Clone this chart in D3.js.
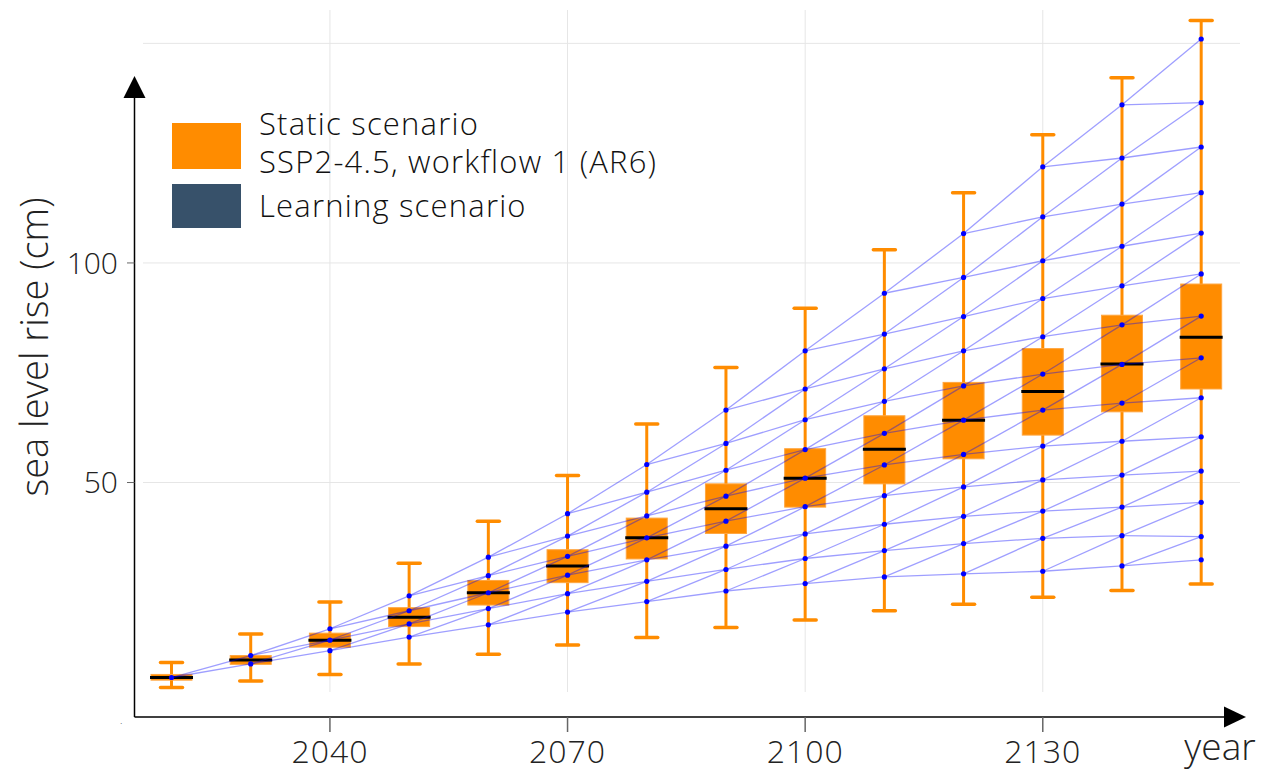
<!DOCTYPE html>
<html>
<head>
<meta charset="utf-8">
<script src="https://cdn.jsdelivr.net/npm/d3@7"></script>
<style>
  body { margin: 0; background: #fff; }
  svg { display: block; font-family: "Open Sans", sans-serif; font-weight: 300; }
</style>
</head>
<body>
<svg id="chart"></svg>
<script>
var width = 1270
var height = 771

var years = [2020, 2030, 2040, 2050, 2060, 2070, 2080, 2090, 2100, 2110, 2120, 2130, 2140, 2150]
var whiskerLow = [3.3, 4.8, 6.3, 8.7, 10.9, 13.0, 14.7, 17.0, 18.7, 20.8, 22.3, 23.9, 25.4, 26.9]
var boxLow =     [5.0, 8.6, 12.5, 17.2, 22.1, 27.2, 32.6, 38.4, 44.4, 49.7, 55.4, 60.8, 66.1, 71.3]
var medians =    [5.6, 9.6, 14.1, 19.3, 24.9, 31.0, 37.4, 44.0, 51.0, 57.6, 64.2, 70.7, 77.0, 83.1]
var boxHigh =    [6.3, 10.6, 15.7, 21.5, 27.7, 34.7, 41.9, 49.7, 57.7, 65.2, 72.8, 80.5, 88.1, 95.2]
var whiskerHigh = [9.0, 15.5, 22.8, 31.6, 41.2, 51.6, 63.3, 76.2, 89.7, 103.0, 116.0, 129.2, 142.2, 155.2]

// learning scenario tree, nodes per year, top to bottom
var nodes = [
  [5.6],
  [10.6, 8.7],
  [16.7, 14.1, 11.7],
  [24.2, 20.8, 17.8, 14.8],
  [33.0, 28.8, 24.9, 21.3, 17.6],
  [42.9, 37.8, 33.2, 28.9, 24.7, 20.5],
  [54.1, 47.8, 42.4, 37.4, 32.4, 27.5, 22.9],
  [66.5, 58.9, 52.8, 46.9, 41.2, 35.5, 30.2, 25.3],
  [80.0, 71.3, 64.3, 57.5, 51.0, 44.5, 38.3, 32.7, 27.0],
  [93.1, 83.8, 75.9, 68.5, 61.2, 54.0, 47.0, 40.5, 34.5, 28.5],
  [106.7, 96.7, 87.8, 80.0, 72.0, 64.2, 56.4, 49.0, 42.3, 36.1, 29.2],
  [121.9, 110.5, 100.5, 91.9, 83.2, 74.7, 66.5, 58.3, 50.6, 43.5, 37.3, 29.8],
  [136.0, 123.9, 113.4, 103.8, 94.8, 85.9, 76.9, 68.1, 59.4, 51.7, 44.4, 37.9, 31.0],
  [151.0, 136.5, 126.4, 116.0, 106.8, 97.5, 87.9, 78.4, 69.3, 60.4, 52.6, 45.5, 37.7, 32.4]
]

var xTicks = [2040, 2070, 2100, 2130]
var yTicks = [50, 100]
var yGrid = [50, 100, 150]

var legendItems = [
  {lines: ["Static scenario", "SSP2-4.5, workflow 1 (AR6)"], color: "#ff8c00"},
  {lines: ["Learning scenario"], color: "#37516a"}
]

const svg = d3.select("#chart")
  .attr("width", width)
  .attr("height", height)

// plot area
const x = d3.scaleLinear().domain([2016.4, 2154.9]).range([143, 1240])
const y = d3.scaleLinear().domain([2.3, 157.6]).range([692, 10])

const axisX = 134.5
const axisY = 717

// grid
svg.append("g")
  .selectAll("line")
  .data(yGrid)
  .join("line")
  .attr("x1", 143).attr("x2", 1240)
  .attr("y1", d => y(d)).attr("y2", d => y(d))
  .attr("stroke", "#e6e6e6")
  .attr("stroke-width", 1)

svg.append("g")
  .selectAll("line")
  .data(xTicks)
  .join("line")
  .attr("x1", d => x(d)).attr("x2", d => x(d))
  .attr("y1", 10).attr("y2", 692)
  .attr("stroke", "#e6e6e6")
  .attr("stroke-width", 1)

// boxes
const boxW = 41
const capW = 22
const box = svg.append("g")
  .selectAll("g")
  .data(years.map((yr, i) => ({yr: yr, lo: whiskerLow[i], q1: boxLow[i], med: medians[i], q3: boxHigh[i], hi: whiskerHigh[i]})))
  .join("g")

box.append("line")
  .attr("x1", d => x(d.yr)).attr("x2", d => x(d.yr))
  .attr("y1", d => y(d.hi)).attr("y2", d => y(d.lo))
  .attr("stroke", "#ff8c00")
  .attr("stroke-width", 3)

box.selectAll(".cap")
  .data(d => [d, d].map((e, k) => ({yr: e.yr, v: k ? e.lo : e.hi})))
  .join("line")
  .attr("class", "cap")
  .attr("x1", d => x(d.yr) - capW / 2).attr("x2", d => x(d.yr) + capW / 2)
  .attr("y1", d => y(d.v)).attr("y2", d => y(d.v))
  .attr("stroke", "#ff8c00")
  .attr("stroke-width", 3.5)
  .attr("stroke-linecap", "round")

box.append("rect")
  .attr("x", d => x(d.yr) - boxW / 2)
  .attr("width", boxW)
  .attr("y", d => y(d.q3))
  .attr("height", d => Math.max(1, y(d.q1) - y(d.q3)))
  .attr("fill", "#ff8c00")
  .attr("stroke", "#ffa640")
  .attr("stroke-width", 1)

box.append("line")
  .attr("x1", d => x(d.yr) - boxW / 2 - 1).attr("x2", d => x(d.yr) + boxW / 2 + 1)
  .attr("y1", d => y(d.med)).attr("y2", d => y(d.med))
  .attr("stroke", "#000")
  .attr("stroke-width", 3)

// tree edges
var edges = []
nodes.forEach((col, t) => {
  if (t == nodes.length - 1) return
  col.forEach((v, i) => {
    edges.push({x1: years[t], y1: v, x2: years[t + 1], y2: nodes[t + 1][i]})
    edges.push({x1: years[t], y1: v, x2: years[t + 1], y2: nodes[t + 1][i + 1]})
  })
})

svg.append("g")
  .selectAll("line")
  .data(edges)
  .join("line")
  .attr("x1", d => x(d.x1)).attr("y1", d => y(d.y1))
  .attr("x2", d => x(d.x2)).attr("y2", d => y(d.y2))
  .attr("stroke", "#0000ff")
  .attr("stroke-opacity", 0.38)
  .attr("stroke-width", 1.3)

var points = []
nodes.forEach((col, t) => col.forEach(v => points.push({yr: years[t], v: v})))

svg.append("g")
  .selectAll("circle")
  .data(points)
  .join("circle")
  .attr("cx", d => x(d.yr))
  .attr("cy", d => y(d.v))
  .attr("r", 2.6)
  .attr("fill", "#0000ff")

// axes with arrows
svg.append("line")
  .attr("x1", axisX).attr("x2", axisX)
  .attr("y1", axisY).attr("y2", 90)
  .attr("stroke", "#000").attr("stroke-width", 1.5)
svg.append("path")
  .attr("d", `M${axisX - 11},98 L${axisX + 11},98 L${axisX},76 Z`)
  .attr("fill", "#000")

svg.append("line")
  .attr("x1", axisX).attr("x2", 1230)
  .attr("y1", axisY).attr("y2", axisY)
  .attr("stroke", "#000").attr("stroke-width", 1.5)
svg.append("path")
  .attr("d", `M1224,${axisY - 10.5} L1224,${axisY + 10.5} L1246,${axisY} Z`)
  .attr("fill", "#000")

// ticks
svg.append("g")
  .selectAll("line")
  .data(yTicks)
  .join("line")
  .attr("x1", 127).attr("x2", axisX)
  .attr("y1", d => y(d)).attr("y2", d => y(d))
  .attr("stroke", "#666").attr("stroke-width", 1)

svg.append("g")
  .selectAll("text")
  .data(yTicks)
  .join("text")
  .attr("x", 118)
  .attr("y", d => y(d))
  .attr("dy", "0.36em")
  .attr("text-anchor", "end")
  .attr("font-size", 30)
  .attr("fill", "#222")
  .text(d => d)

svg.append("g")
  .selectAll("line")
  .data(xTicks)
  .join("line")
  .attr("x1", d => x(d)).attr("x2", d => x(d))
  .attr("y1", axisY).attr("y2", 732)
  .attr("stroke", "#666").attr("stroke-width", 1.5)

svg.append("g")
  .selectAll("text")
  .data(xTicks)
  .join("text")
  .attr("x", d => x(d))
  .attr("y", 763)
  .attr("text-anchor", "middle")
  .attr("font-size", 32)
  .attr("letter-spacing", 1)
  .attr("fill", "#222")
  .text(d => d)

svg.append("text")
  .attr("x", 120).attr("y", 724)
  .attr("font-size", 10)
  .attr("fill", "#444")
  .text(".")

// axis titles
svg.append("text")
  .attr("x", 1220).attr("y", 760)
  .attr("text-anchor", "middle")
  .attr("font-size", 37)
  .attr("fill", "#222")
  .text("year")

svg.append("text")
  .attr("transform", "translate(48,347) rotate(-90)")
  .attr("text-anchor", "middle")
  .attr("font-size", 38)
  .attr("fill", "#222")
  .text("sea level rise (cm)")

// legend
svg.append("rect").attr("x", 172).attr("y", 123).attr("width", 69).attr("height", 46).attr("fill", legendItems[0].color)
svg.append("rect").attr("x", 172).attr("y", 184).attr("width", 69).attr("height", 44).attr("fill", legendItems[1].color)

const legendText = svg.append("text")
  .attr("font-size", 31)
  .attr("letter-spacing", 1.2)
  .attr("fill", "#111")
legendText.append("tspan").attr("x", 259).attr("y", 135).text(legendItems[0].lines[0])
legendText.append("tspan").attr("x", 259).attr("y", 173).text(legendItems[0].lines[1])
legendText.append("tspan").attr("x", 259).attr("y", 217).text(legendItems[1].lines[0])
</script>
</body>
</html>
